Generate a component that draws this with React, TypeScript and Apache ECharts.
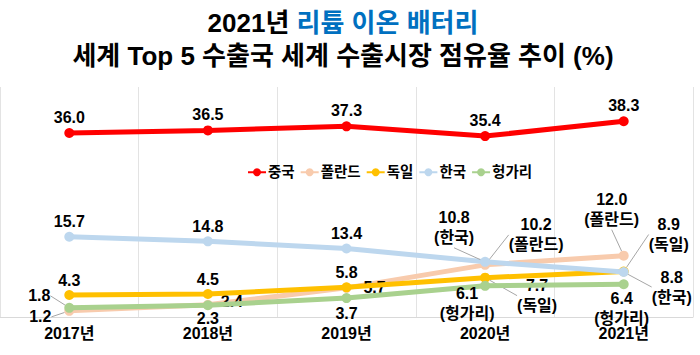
import React, { useEffect, useRef } from "react";
import * as echarts from "echarts";

const years = ["2017년", "2018년", "2019년", "2020년", "2021년"];
const seriesNames = ["중국", "폴란드", "독일", "한국", "헝가리"];
const china = [36.0, 36.5, 37.3, 35.4, 38.3];
const poland = [1.2, 2.4, 5.7, 10.2, 12.0];
const germany = [4.3, 4.5, 5.8, 7.7, 8.9];
const korea = [15.7, 14.8, 13.4, 10.8, 8.8];
const hungary = [1.8, 2.3, 3.7, 6.1, 6.4];
const seriesValues = [china, poland, germany, korea, hungary];

const titleYear = "2021년 ";
const titleBlue = "리튬 이온 배터리";
const titleLine2 = "세계 Top 5 수출국 세계 수출시장 점유율 추이 (%)";

// styling: colors, label offsets (label centre relative to point), name suffix, leader line
const colors = ["#ff0000", "#f8cbad", "#ffc000", "#bdd7ee", "#a9d18e"];
const labelOffsets: number[][][] = [
  [[0, -16], [0, -16], [0, -16], [0, -16], [0, -16]],
  [[-29, 6], [24, -3], [28, 0], [51, -30], [-12, -46]],
  [[0, -15], [0, -15], [0, -15], [52, 18], [45, -37]],
  [[0, -15], [0, -15], [0, -15], [-31, -34], [48, 15]],
  [[-30, -12], [0, 13], [0, 15], [-18, 18], [-2, 24]],
];
const nameSuffix: boolean[][] = [
  [false, false, false, false, false],
  [false, false, false, true, true],
  [false, false, false, true, true],
  [false, false, false, true, true],
  [false, false, false, true, true],
];
const leaders: boolean[][] = [
  [false, false, false, false, false],
  [true, false, false, true, true],
  [false, false, false, true, true],
  [false, false, false, true, true],
  [true, false, false, false, false],
];

const FONT = "'Liberation Sans', 'Noto Sans CJK KR', sans-serif";

export default function App() {
  const ref = useRef<HTMLDivElement>(null);
  useEffect(() => {
    if (!ref.current) return;
    const chart = echarts.init(ref.current, null, { renderer: "svg" });
    const series = seriesNames.map((name, si) => ({
      name,
      type: "line",
      symbol: "circle",
      symbolSize: 10,
      z: 2 + si,
      itemStyle: { color: colors[si] },
      lineStyle: { color: colors[si], width: 5 },
      label: {
        show: true,
        position: "inside",
        color: "#000",
        fontFamily: FONT,
        fontWeight: "bold",
        fontSize: 16,
        lineHeight: 20,
        align: "center",
      },
      labelLine: { show: false, lineStyle: { color: "#a6a6a6", width: 1 } },
      labelLayout: (p: any) => {
        const off = labelOffsets[p.seriesIndex][p.dataIndex];
        return {
          x: p.rect.x + p.rect.width / 2 + off[0],
          y: p.rect.y + p.rect.height / 2 + off[1],
          align: "center",
          verticalAlign: "middle",
        };
      },
      data: seriesValues[si].map((v, di) => ({
        value: v,
        label: {
          formatter: nameSuffix[si][di] ? `${v.toFixed(1)}\n(${name})` : v.toFixed(1),
        },
        labelLine: { show: leaders[si][di], lineStyle: { color: "#a6a6a6", width: 1 } },
      })),
    }));
    chart.setOption({
      animation: false,
      backgroundColor: "#fff",
      title: {
        left: 338,
        top: 1,
        textAlign: "center",
        text: `{a|${titleYear}}{b|${titleBlue}}\n{a|${titleLine2}}`,
        textStyle: {
          rich: {
            a: { fontFamily: FONT, fontWeight: "bold", fontSize: 26, color: "#000", lineHeight: 33 },
            b: { fontFamily: FONT, fontWeight: "bold", fontSize: 26, color: "#0070c0", lineHeight: 33 },
          },
        },
      },
      legend: {
        left: 242,
        top: 160,
        itemWidth: 18,
        itemHeight: 10,
        itemGap: 5,
        textStyle: { fontFamily: FONT, fontWeight: "bold", fontSize: 14.5, color: "#000", padding: [0, 0, 0, -3] },
        data: seriesNames,
      },
      grid: { left: -12, right: 7, top: 87, bottom: 38, containLabel: false },
      xAxis: {
        type: "category",
        data: years,
        boundaryGap: true,
        axisLine: { show: true, lineStyle: { color: "#d9d9d9", width: 1 } },
        axisTick: { show: false },
        axisLabel: { color: "#000", fontFamily: FONT, fontWeight: "bold", fontSize: 16, margin: 8 },
        splitLine: { show: true, interval: 0, lineStyle: { color: "#e3e3e3", width: 1 } },
      },
      yAxis: {
        type: "value",
        min: 0,
        max: 45,
        show: false,
        splitLine: { show: false },
      },
      series,
    });
    return () => chart.dispose();
  }, []);
  return (
    <div
      ref={ref}
      style={{ position: "absolute", left: 0, top: 0, width: 700, height: 355 }}
    />
  );
}
